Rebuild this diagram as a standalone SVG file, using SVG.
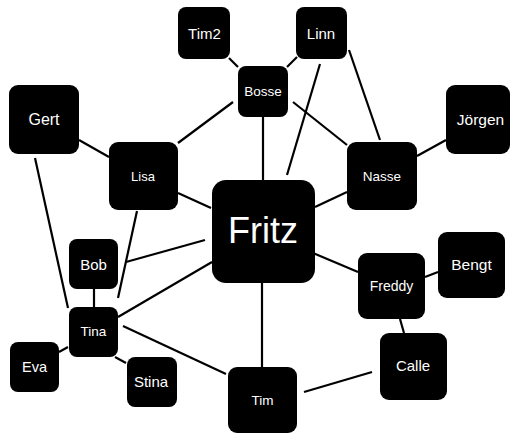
<svg xmlns="http://www.w3.org/2000/svg" width="511" height="434" viewBox="0 0 511 434">
  <style>
    .box { fill: #000; }
    .lbl { fill: #fff; font-family: "Liberation Sans", Arial, sans-serif; text-anchor: middle; }
    .edges line { stroke: #000; stroke-width: 2.2; stroke-linecap: butt; }
  </style>
  <rect width="511" height="434" fill="#fff"/>

  <g class="edges" id="connectors">
    <line x1="229" y1="58" x2="238" y2="67"/>
    <line x1="297" y1="57" x2="287" y2="67"/>
    <line x1="320" y1="64" x2="287" y2="175"/>
    <line x1="349" y1="50" x2="380" y2="140"/>
    <line x1="233" y1="102" x2="178" y2="143"/>
    <line x1="263" y1="117" x2="263" y2="180"/>
    <line x1="293" y1="102" x2="347" y2="145"/>
    <line x1="79" y1="140" x2="109" y2="157"/>
    <line x1="35" y1="158" x2="68" y2="308"/>
    <line x1="137" y1="211" x2="118" y2="298"/>
    <line x1="178" y1="193" x2="211" y2="208"/>
    <line x1="126" y1="262" x2="205" y2="240"/>
    <line x1="118" y1="317" x2="212" y2="262"/>
    <line x1="123" y1="326" x2="226" y2="374"/>
    <line x1="94" y1="289" x2="94" y2="307"/>
    <line x1="68" y1="347" x2="59" y2="352"/>
    <line x1="115" y1="357" x2="126" y2="363"/>
    <line x1="417" y1="156" x2="446" y2="140"/>
    <line x1="315" y1="207" x2="347" y2="192"/>
    <line x1="313" y1="253" x2="358" y2="272"/>
    <line x1="425" y1="277" x2="438" y2="272"/>
    <line x1="400" y1="319" x2="404" y2="333"/>
    <line x1="262" y1="283" x2="262" y2="367"/>
    <line x1="304" y1="392" x2="372" y2="372"/>
  </g>

  <g id="tim2">
    <rect class="box" x="178" y="7" width="52" height="52" rx="8"/>
    <text class="lbl" x="204.5" y="39" font-size="15">Tim2</text>
  </g>
  <g id="linn">
    <rect class="box" x="296" y="7" width="51" height="52" rx="8"/>
    <text class="lbl" x="321" y="39" font-size="15">Linn</text>
  </g>
  <g id="bosse">
    <rect class="box" x="238" y="66" width="50" height="51" rx="8"/>
    <text class="lbl" x="263" y="96" font-size="13.5">Bosse</text>
  </g>
  <g id="gert">
    <rect class="box" x="9" y="85" width="70" height="69" rx="9"/>
    <text class="lbl" x="44" y="125" font-size="16">Gert</text>
  </g>
  <g id="lisa">
    <rect class="box" x="109" y="142" width="69" height="68" rx="9"/>
    <text class="lbl" x="143" y="181" font-size="13">Lisa</text>
  </g>
  <g id="nasse">
    <rect class="box" x="347" y="142" width="70" height="68" rx="9"/>
    <text class="lbl" x="382" y="181" font-size="13.5">Nasse</text>
  </g>
  <g id="jorgen">
    <rect class="box" x="446" y="85" width="64" height="69" rx="9"/>
    <text class="lbl" x="480.5" y="125" font-size="15.5">Jörgen</text>
  </g>
  <g id="fritz">
    <rect class="box" x="212" y="180" width="103" height="103" rx="14"/>
    <text class="lbl" x="263" y="243" font-size="36">Fritz</text>
  </g>
  <g id="bob">
    <rect class="box" x="69" y="239" width="49" height="50" rx="8"/>
    <text class="lbl" x="93.5" y="270" font-size="15">Bob</text>
  </g>
  <g id="tina">
    <rect class="box" x="69" y="307" width="49" height="50" rx="8"/>
    <text class="lbl" x="93.5" y="336" font-size="13.5">Tina</text>
  </g>
  <g id="eva">
    <rect class="box" x="10" y="342" width="49" height="50" rx="8"/>
    <text class="lbl" x="34.5" y="372" font-size="14.5">Eva</text>
  </g>
  <g id="stina">
    <rect class="box" x="127" y="357" width="50" height="50" rx="8"/>
    <text class="lbl" x="151" y="387" font-size="15">Stina</text>
  </g>
  <g id="freddy">
    <rect class="box" x="358" y="253" width="67" height="66" rx="9"/>
    <text class="lbl" x="391.5" y="290.5" font-size="14">Freddy</text>
  </g>
  <g id="bengt">
    <rect class="box" x="438" y="232" width="67" height="66" rx="9"/>
    <text class="lbl" x="471.5" y="270" font-size="15.5">Bengt</text>
  </g>
  <g id="calle">
    <rect class="box" x="380" y="333" width="67" height="67" rx="9"/>
    <text class="lbl" x="413" y="370.5" font-size="15">Calle</text>
  </g>
  <g id="tim">
    <rect class="box" x="228" y="367" width="69" height="66" rx="9"/>
    <text class="lbl" x="262.5" y="405" font-size="13.5">Tim</text>
  </g>
</svg>
